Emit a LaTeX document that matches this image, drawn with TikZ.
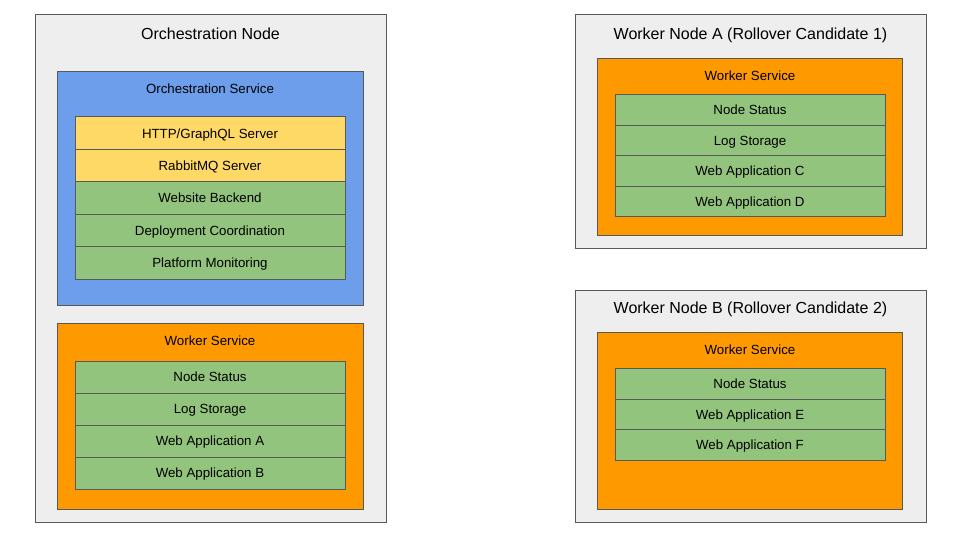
\documentclass[tikz,border=0pt]{standalone}
\usepackage{fontspec}
\setmainfont{Liberation Sans}
\usetikzlibrary{positioning}
\definecolor{hostgrey}{HTML}{EEEEEE}
\definecolor{edgegrey}{HTML}{595959}
\definecolor{orchblue}{HTML}{6D9EEB}
\definecolor{srvyellow}{HTML}{FFD966}
\definecolor{appgreen}{HTML}{93C47D}
\definecolor{workorange}{HTML}{FF9900}
\tikzset{
  box/.style={draw=edgegrey, line width=1pt, anchor=north west, inner sep=0pt, outer sep=0pt},
  hostbox/.style={box, fill=hostgrey, minimum width=351pt, minimum height=#1},
  orchbox/.style={box, fill=orchblue, minimum width=306pt, minimum height=#1},
  workbox/.style={box, fill=workorange, minimum width=305pt, minimum height=#1},
  row/.style={draw=edgegrey, line width=1pt, fill=appgreen, inner sep=0pt, outer sep=0pt,
    minimum width=270pt, minimum height=#1, text depth=0pt, font=\fontsize{13.3}{16}\selectfont},
  srvrow/.style={row=#1, fill=srvyellow},
  hosttitle/.style={text depth=0pt, font=\fontsize{16}{19}\selectfont},
  srvtitle/.style={text depth=0pt, font=\fontsize{13.3}{16}\selectfont},
}
\begin{document}
\begin{tikzpicture}[x=1pt, y=-1pt]
  \useasboundingbox (0,0) rectangle (960,540);
  % orchestration node
  \node[hostbox=507pt] (orch) at (35,15) {};
  \node[hosttitle] (orchT) at (210.5,34) {Orchestration Node};
  \node[orchbox=233pt] (osrv) at (57,72) {};
  \node[srvtitle] (osrvT) at (210,89) {Orchestration Service};
  \node[srvrow=32.4pt, anchor=north west] (o1) at (75,117) {HTTP/GraphQL Server};
  \node[srvrow=32.4pt, below=0pt of o1] (o2) {RabbitMQ Server};
  \node[row=32.4pt, below=0pt of o2] (o3) {Website Backend};
  \node[row=32.4pt, below=0pt of o3] (o4) {Deployment Coordination};
  \node[row=32.4pt, below=0pt of o4] (o5) {Platform Monitoring};
  \node[workbox=186pt, minimum width=306pt] (owrk) at (57,323) {};
  \node[srvtitle] (owrkT) at (210,341) {Worker Service};
  \node[row=32pt, anchor=north west] (w1) at (75,361) {Node Status};
  \node[row=32pt, below=0pt of w1] (w2) {Log Storage};
  \node[row=32pt, below=0pt of w2] (w3) {Web Application A};
  \node[row=32pt, below=0pt of w3] (w4) {Web Application B};
  % worker node A
  \node[hostbox=233pt] (wa) at (575,15) {};
  \node[hosttitle] (waT) at (750.5,34) {Worker Node A (Rollover Candidate 1)};
  \node[workbox=176pt] (awrk) at (597,59) {};
  \node[srvtitle] (awrkT) at (750,76) {Worker Service};
  \node[row=30.6pt, anchor=north west] (a1) at (615,94.5) {Node Status};
  \node[row=30.6pt, below=0pt of a1] (a2) {Log Storage};
  \node[row=30.6pt, below=0pt of a2] (a3) {Web Application C};
  \node[row=30.6pt, below=0pt of a3] (a4) {Web Application D};
  % worker node B
  \node[hostbox=232pt] (wb) at (575,290) {};
  \node[hosttitle] (wbT) at (750.5,308) {Worker Node B (Rollover Candidate 2)};
  \node[workbox=177pt] (bwrk) at (597,332) {};
  \node[srvtitle] (bwrkT) at (750,350) {Worker Service};
  \node[row=30.5pt, anchor=north west] (b1) at (615,368.5) {Node Status};
  \node[row=30.5pt, below=0pt of b1] (b2) {Web Application E};
  \node[row=30.5pt, below=0pt of b2] (b3) {Web Application F};
\end{tikzpicture}
\end{document}
